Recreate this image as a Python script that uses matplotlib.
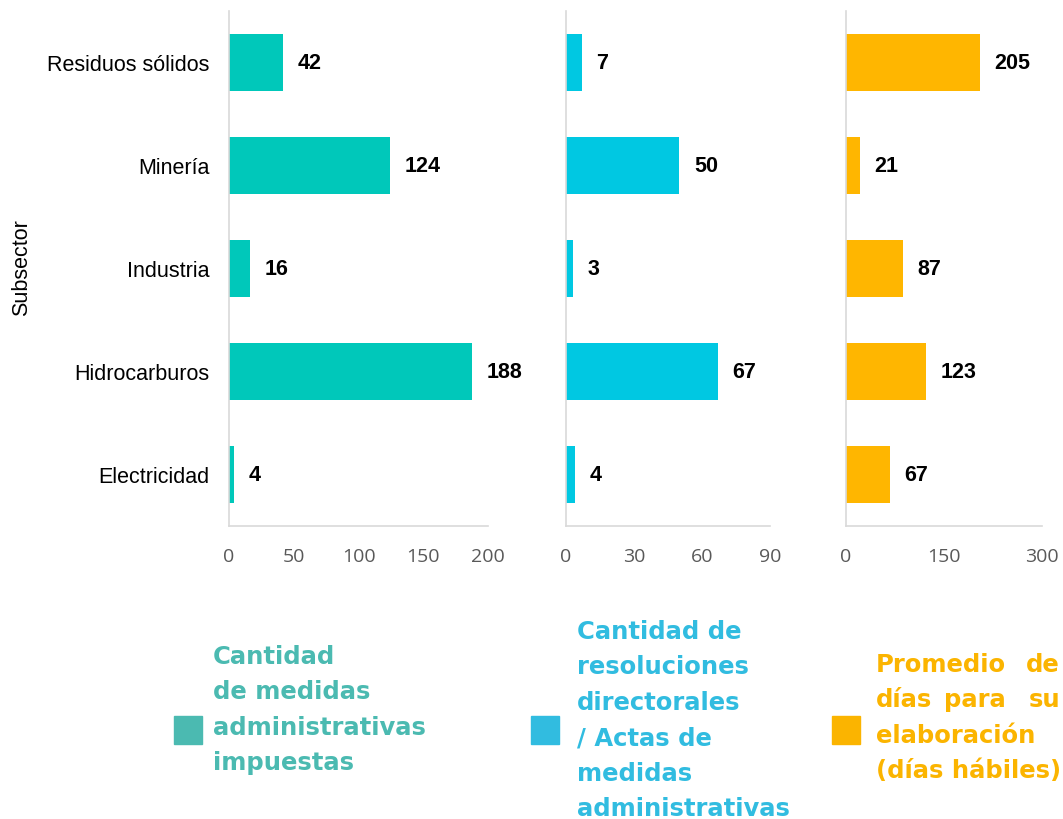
import matplotlib
matplotlib.use('Agg')
import matplotlib.pyplot as plt
from matplotlib.patches import Rectangle

# data
subsectores = ['Electricidad', 'Hidrocarburos', 'Industria', 'Minería', 'Residuos sólidos']
medidas = [4, 188, 16, 124, 42]
resoluciones = [4, 67, 3, 50, 7]
dias = [67, 123, 87, 21, 205]

ticks1 = [0, 50, 100, 150, 200]
ticks2 = [0, 30, 60, 90]
ticks3 = [0, 150, 300]

leg1 = ['Cantidad', 'de medidas', 'administrativas', 'impuestas']
leg2 = ['Cantidad de', 'resoluciones', 'directorales', '/ Actas de', 'medidas', 'administrativas']
leg3 = ['Promedio de', 'días para su', 'elaboración', '(días hábiles)']

c_bar = ['#00C8BA', '#00C8E2', '#FFB600']
c_leg = ['#4BBAB1', '#31BCE0', '#FBB400']
grid_c = '#D9D9D9'

fig = plt.figure(figsize=(10.63, 8.2), dpi=100)

W, H = 1063, 820
bottom = 1 - 527 / H
height = (527 - 12) / H

panels = [
    (229, 488, medidas, ticks1, (0, 200), c_bar[0]),
    (566, 770, resoluciones, ticks2, (0, 90), c_bar[1]),
    (846, 1042, dias, ticks3, (0, 300), c_bar[2]),
]

for i, (x0, x1, vals, ticks, xl, col) in enumerate(panels):
    ax = fig.add_axes([x0 / W, bottom, (x1 - x0) / W, height])
    ypos = range(len(subsectores))
    ax.barh(ypos, vals, height=0.55, color=col)
    ax.set_xlim(*xl)
    ax.set_ylim(-0.5, 4.5)
    ax.set_xticks(ticks)
    ax.set_xticklabels([str(t) for t in ticks], fontsize=14, color='#595959',
                       family='Open Sans')
    ax.tick_params(axis='x', length=0, pad=15)
    for s in ['top', 'right']:
        ax.spines[s].set_visible(False)
    for s in ['left', 'bottom']:
        ax.spines[s].set_color(grid_c)
        ax.spines[s].set_linewidth(1.2)
    for y, v in zip(ypos, vals):
        ax.annotate(str(v), (v, y), xytext=(10.5, 0), textcoords='offset points',
                    ha='left', va='center', fontsize=15.5, fontweight='bold',
                    family='Liberation Sans', color='black')
    if i == 0:
        ax.set_yticks(list(ypos))
        ax.set_yticklabels(subsectores, fontsize=15.5, family='Liberation Sans')
        ax.tick_params(axis='y', length=0, pad=14)
    else:
        ax.set_yticks([])

fig.text(22 / W, 1 - 268 / H, 'Subsector', rotation=90, ha='center', va='center',
         fontsize=15.5, family='Liberation Sans')

# legend blocks: (square x, text left, text right or None, first line y, lines, colour)
legends = [
    (174, 213, None, 657, leg1, c_leg[0]),
    (531, 577, None, 632, leg2, c_leg[1]),
    (832, 876, 1060, 665, leg3, c_leg[2]),
]
for sx, tx, tr, ty, lines, col in legends:
    fig.patches.append(Rectangle((sx / W, 1 - 745 / H), 28 / W, 28 / H,
                                 transform=fig.transFigure, color=col))
    for k, line in enumerate(lines):
        yy = 1 - (ty + k * 35.5) / H
        words = line.split(' ')
        kw = dict(va='center', fontsize=17.5, fontweight='bold', family='DejaVu Sans', color=col)
        if tr is not None and len(words) == 2 and not line.startswith('('):
            # justified line: first word left, last word right
            fig.text(tx / W, yy, words[0], ha='left', **kw)
            fig.text(tr / W, yy, words[1], ha='right', **kw)
        elif tr is not None and len(words) == 3:
            fig.text(tx / W, yy, words[0], ha='left', **kw)
            fig.text((tx + tr) / 2 / W + 0.006, yy, words[1], ha='center', **kw)
            fig.text(tr / W, yy, words[2], ha='right', **kw)
        else:
            fig.text(tx / W, yy, line, ha='left', **kw)

plt.savefig('out.png', dpi=100)
